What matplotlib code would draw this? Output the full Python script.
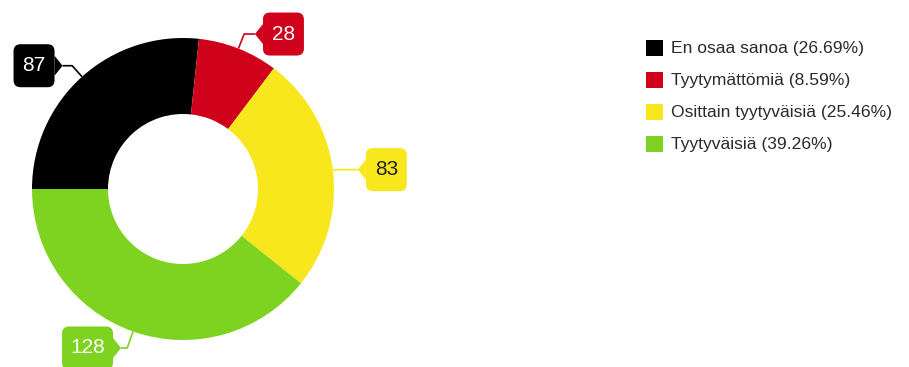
import numpy as np
import matplotlib
matplotlib.use("Agg")
from matplotlib import pyplot as plt
from matplotlib.patches import FancyBboxPatch, Polygon, Rectangle

# data
categories = ["En osaa sanoa", "Tyytymättömiä", "Osittain tyytyväisiä", "Tyytyväisiä"]
counts = [87, 28, 83, 128]
colors = ["#000000", "#d0021b", "#f8e71c", "#7ed321"]
label_text_colors = ["white", "white", "#222222", "white"]

# layout (pixel units, y up)
center = (183, 178)
radius = 151
ring = 76
label_offsets = [(-48, 11), (45, 14.5), (53.5, 0.5), (-45.5, -16.5)]

plt.rcParams["font.family"] = ["Liberation Sans", "DejaVu Sans"]

fig = plt.figure(figsize=(9.09, 3.67), dpi=100)
ax = fig.add_axes([0, 0, 1, 1])

wedges, _ = ax.pie(counts, colors=colors, startangle=180, counterclock=False,
                   radius=radius, center=center,
                   wedgeprops=dict(width=ring, linewidth=0))

ax.set_xlim(0, 909)
ax.set_ylim(0, 367)
ax.set_aspect("equal")
ax.axis("off")

# callout labels
for w, n, c, tc, (ox, oy) in zip(wedges, counts, colors, label_text_colors, label_offsets):
    mid = np.deg2rad((w.theta1 + w.theta2) / 2)
    px = center[0] + radius * np.cos(mid)
    py = center[1] + radius * np.sin(mid)
    cx, cy = px + ox, py + oy
    bw = 21 + 10 * len(str(n))
    bh = 43

    box = FancyBboxPatch((cx - bw / 2, cy - bh / 2), bw, bh,
                         boxstyle="round,pad=0,rounding_size=7",
                         fc=c, ec="none", zorder=4)
    ax.add_patch(box)

    # pointer on the side facing the slice
    side = cx + bw / 2 if ox < 0 else cx - bw / 2
    tip = side + 8 if ox < 0 else side - 8
    ax.add_patch(Polygon([(side, cy + 10), (tip, cy), (side, cy - 10)],
                         closed=True, fc=c, ec="none", zorder=4))

    # connector: radial out to box height, then horizontal to the pointer
    s = np.sin(mid)
    t = (cy - py) / s if abs(s) > 1e-6 else 0
    kx = px + t * np.cos(mid)
    ax.plot([px, kx, tip], [py, cy, cy], color=c, lw=1.2, zorder=3,
            solid_capstyle="butt")

    ax.text(cx, cy, str(n), color=tc, fontsize=15, ha="center", va="center",
            zorder=5)

# legend
total = sum(counts)
for i, (cat, n, c) in enumerate(zip(categories, counts, colors)):
    y = 319 - i * 32
    ax.add_patch(Rectangle((646, y - 8), 17, 16, fc=c, ec="none"))
    ax.text(671, y, f"{cat} ({n / total * 100:.2f}%)", fontsize=12.6,
            color="#2a2a2a", ha="left", va="center")

fig.savefig("out.png", dpi=100)
